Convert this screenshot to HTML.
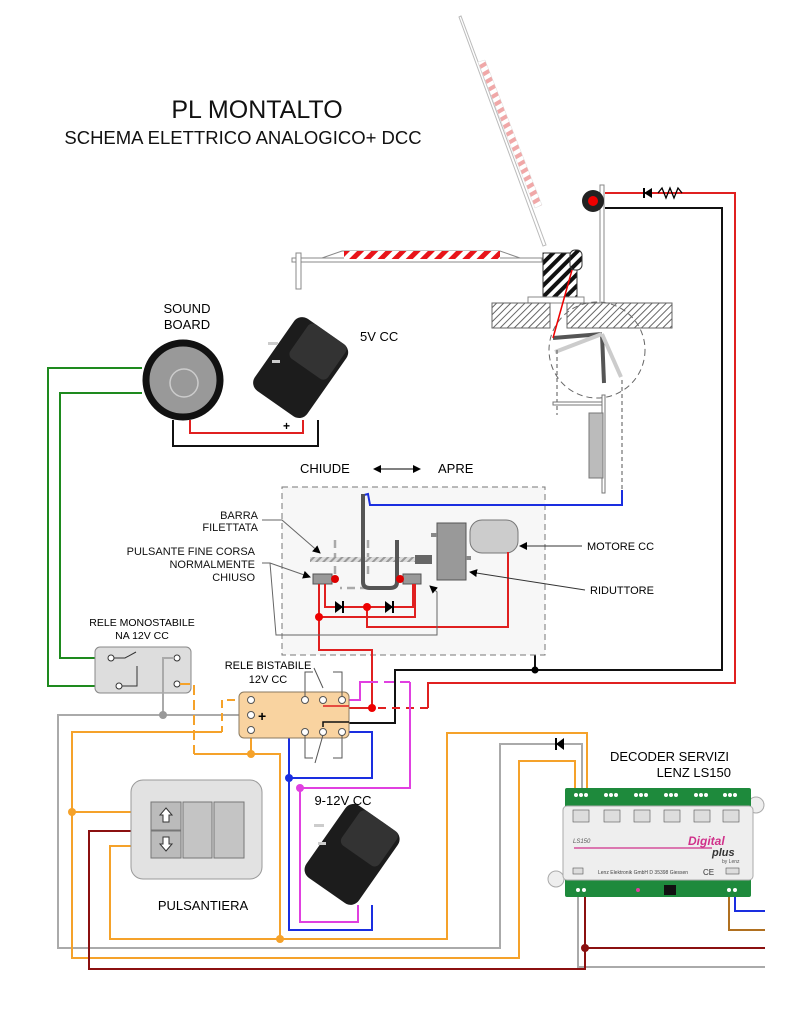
<!DOCTYPE html>
<html><head><meta charset="utf-8"><style>
html,body{margin:0;padding:0;background:#fff}
svg{display:block}
text{font-family:"Liberation Sans",sans-serif}
</style></head><body>
<svg width="800" height="1026" viewBox="0 0 800 1026" xmlns="http://www.w3.org/2000/svg">
<defs>
<pattern id="rw" width="10" height="10" patternUnits="userSpaceOnUse" patternTransform="rotate(45)"><rect width="10" height="10" fill="#fff"/><rect width="5" height="10" fill="#e8141a"/></pattern>
<pattern id="rwl" width="8" height="8" patternUnits="userSpaceOnUse" patternTransform="rotate(-30)"><rect width="8" height="8" fill="#fff"/><rect width="8" height="4" fill="#f0a8a8"/></pattern>
<pattern id="bw" width="8" height="8" patternUnits="userSpaceOnUse" patternTransform="rotate(45)"><rect width="8" height="8" fill="#fff"/><rect width="4" height="8" fill="#111"/></pattern>
<pattern id="hatch" width="5" height="5" patternUnits="userSpaceOnUse" patternTransform="rotate(45)"><rect width="5" height="5" fill="#fff"/><rect width="1" height="5" fill="#666"/></pattern>
<pattern id="thr" width="5" height="5" patternUnits="userSpaceOnUse" patternTransform="rotate(45)"><rect width="5" height="5" fill="#ddd"/><rect width="2" height="5" fill="#999"/></pattern>
<marker id="ah" markerWidth="8" markerHeight="8" refX="7" refY="4" orient="auto"><path d="M0,0 L8,4 L0,8 z" fill="#000"/></marker>
</defs>

<!-- titles -->
<text x="257" y="118" font-size="25" text-anchor="middle" fill="#111">PL MONTALTO</text>
<text x="243" y="144" font-size="18.5" text-anchor="middle" fill="#111">SCHEMA ELETTRICO ANALOGICO+ DCC</text>

<!-- raised barrier -->
<polygon points="459,17 461,16 546,245 543,246" fill="#fff" stroke="#bbb" stroke-width="1"/>
<polygon points="478,62 485,60 542,205 535,208" fill="url(#rwl)" stroke="#ddd" stroke-width="0.5"/>
<!-- horizontal barrier -->
<rect x="292" y="258" width="250" height="4" fill="#fff" stroke="#888"/>
<polygon points="322,258 342,251 500,251 520,258" fill="#fff" stroke="#888"/>
<rect x="344" y="251" width="156" height="8" fill="url(#rw)"/>
<rect x="296" y="253" width="5" height="36" fill="#fff" stroke="#888"/>
<rect x="543" y="253" width="34" height="47" fill="url(#bw)" stroke="#333"/>
<rect x="570" y="250" width="12" height="20" rx="5" fill="url(#bw)" stroke="#333"/>
<rect x="528" y="297" width="56" height="6" fill="#fff" stroke="#888"/>
<!-- ground -->
<rect x="492" y="303" width="58" height="25" fill="url(#hatch)" stroke="#666"/>
<rect x="567" y="303" width="105" height="25" fill="url(#hatch)" stroke="#666"/>
<!-- signal -->
<rect x="600" y="185" width="4" height="118" fill="#fff" stroke="#888"/>
<circle cx="593" cy="201" r="11" fill="#222"/><circle cx="593" cy="201" r="5" fill="#e00"/>
<!-- mechanism -->
<circle cx="597" cy="350" r="48" fill="none" stroke="#666" stroke-dasharray="6,4"/>
<line x1="553" y1="338" x2="602" y2="334" stroke="#555" stroke-width="4"/>
<line x1="602" y1="334" x2="604" y2="383" stroke="#555" stroke-width="4"/>
<line x1="602" y1="334" x2="555" y2="352" stroke="#ccc" stroke-width="4"/>
<line x1="602" y1="334" x2="621" y2="377" stroke="#ccc" stroke-width="4"/>
<line x1="572" y1="270" x2="553" y2="338" stroke="#e00" stroke-width="1.5"/>
<line x1="557" y1="350" x2="557" y2="415" stroke="#555" stroke-dasharray="4,3"/>
<line x1="622" y1="380" x2="622" y2="490" stroke="#555" stroke-dasharray="4,3"/>
<rect x="553" y="402" width="52" height="3" fill="#fff" stroke="#777"/>
<rect x="602" y="395" width="3" height="98" fill="#fff" stroke="#777"/>
<rect x="589" y="413" width="14" height="65" fill="#bbb" stroke="#777"/>
<!-- signal wires -->
<polyline points="605,193 735,193 735,683 428,683 428,708" fill="none" stroke="#e02020" stroke-width="2"/>
<polygon points="644,188 644,198 652,193" fill="#000" transform="rotate(180 648 193)"/><line x1="644" y1="188" x2="644" y2="198" stroke="#000" stroke-width="2"/>
<polyline points="658,193 662,188 666,198 670,188 674,198 678,188 682,193" fill="none" stroke="#000" stroke-width="1.3"/>
<polyline points="605,208 722,208 722,670 395,670 395,723 325,723" fill="none" stroke="#111" stroke-width="2"/>
<polyline points="535,670 535,513 508,513 508,520" fill="none" stroke="#111" stroke-width="2"/>
<circle cx="535" cy="670" r="3.5" fill="#000"/>

<!-- dashed box -->
<rect x="282" y="487" width="263" height="168" fill="#f7f7f7" stroke="#777" stroke-dasharray="6,4"/>
<text x="300" y="473" font-size="13">CHIUDE</text>
<text x="438" y="473" font-size="13">APRE</text>
<line x1="376" y1="469" x2="420" y2="469" stroke="#000" marker-end="url(#ah)"/>
<line x1="418" y1="469" x2="374" y2="469" stroke="#000" marker-end="url(#ah)"/>
<!-- blue wire -->
<polyline points="364,505 364,495 368,494 370,505 622,505 622,490" fill="none" stroke="#1a2ee0" stroke-width="2"/>
<!-- guides -->
<line x1="335" y1="540" x2="335" y2="580" stroke="#aaa" stroke-width="2.5" stroke-dasharray="8,5"/>
<line x1="368" y1="588" x2="340" y2="588" stroke="#aaa" stroke-width="2.5" stroke-dasharray="8,5"/>
<line x1="368" y1="540" x2="368" y2="578" stroke="#aaa" stroke-width="2.5" stroke-dasharray="8,5"/>
<rect x="310" y="557" width="110" height="5" fill="url(#thr)"/>
<rect x="415" y="555" width="17" height="9" fill="#666"/>
<path d="M363,494 L363,582 Q363,588 370,588 L390,588 Q397,588 397,582 L397,540" fill="none" stroke="#555" stroke-width="4"/>
<rect x="437" y="523" width="29" height="57" fill="#999" stroke="#555"/>
<rect x="431" y="533" width="6" height="4" fill="#888"/><rect x="466" y="556" width="5" height="4" fill="#888"/>
<rect x="470" y="520" width="48" height="33" rx="12" fill="#ccc" stroke="#777"/>
<rect x="313" y="574" width="19" height="10" fill="#999" stroke="#555"/><circle cx="335" cy="579" r="4" fill="#d00"/>
<rect x="403" y="574" width="18" height="10" fill="#999" stroke="#555"/><circle cx="400" cy="579" r="4" fill="#d00"/>
<!-- red wires in box -->
<g fill="none" stroke="#e02020" stroke-width="2">
<polyline points="319,584 319,650 372,650 372,708 325,708"/>
<polyline points="325,584 325,607 413,607 413,584"/>
<polyline points="319,617 415,617 415,584"/>
<polyline points="367,607 367,627 508,627 508,552"/>
</g>
<polygon points="335,601 335,613 343,607" fill="#000"/><line x1="343" y1="601" x2="343" y2="613" stroke="#000" stroke-width="2"/>
<polygon points="385,601 385,613 393,607" fill="#000"/><line x1="393" y1="601" x2="393" y2="613" stroke="#000" stroke-width="2"/>
<circle cx="319" cy="617" r="4" fill="#e00"/><circle cx="367" cy="607" r="4" fill="#e00"/><circle cx="372" cy="708" r="4" fill="#e00"/>
<line x1="428" y1="708" x2="376" y2="708" stroke="#e02020" stroke-width="2" stroke-dasharray="8,6"/>
<!-- labels box -->
<g font-size="11" text-anchor="end" fill="#111">
<text x="258" y="519">BARRA</text><text x="258" y="531">FILETTATA</text>
<text x="255" y="555">PULSANTE FINE CORSA</text><text x="255" y="568">NORMALMENTE</text><text x="255" y="581">CHIUSO</text>
</g>
<polyline points="262,520 282,520 320,553" fill="none" stroke="#666" marker-end="url(#ah)"/>
<polyline points="262,563 270,563 310,577" fill="none" stroke="#666" marker-end="url(#ah)"/>
<polyline points="270,563 276,635 437,635 437,592 430,586" fill="none" stroke="#666" marker-end="url(#ah)"/>
<text x="587" y="550" font-size="11">MOTORE CC</text>
<line x1="582" y1="546" x2="520" y2="546" stroke="#333" marker-end="url(#ah)"/>
<text x="590" y="594" font-size="11">RIDUTTORE</text>
<line x1="585" y1="590" x2="470" y2="572" stroke="#333" marker-end="url(#ah)"/>

<!-- sound board -->
<text x="187" y="313" font-size="13" text-anchor="middle">SOUND</text>
<text x="187" y="329" font-size="13" text-anchor="middle">BOARD</text>
<polyline points="142,368 48,368 48,686 118,686" fill="none" stroke="#1e8a1e" stroke-width="2"/>
<polyline points="142,393 60,393 60,658 110,658" fill="none" stroke="#1e8a1e" stroke-width="2"/>
<polyline points="173,420 173,446 318,446 318,420" fill="none" stroke="#111" stroke-width="2"/>
<polyline points="190,420 190,433 303,433 303,420" fill="none" stroke="#e02020" stroke-width="2"/>
<text x="283" y="430" font-size="12" font-weight="bold">+</text>
<circle cx="183" cy="380" r="37" fill="#999" stroke="#111" stroke-width="7"/>
<circle cx="184" cy="383" r="14" fill="none" stroke="#ccc" stroke-width="1.5"/>
<!-- 5V adapter -->
<g transform="translate(300,372) rotate(35)">
<rect x="-34" y="-48" width="64" height="88" rx="10" fill="#1c1c1c"/>
<rect x="-20" y="-48" width="46" height="42" rx="6" fill="#333"/>
</g>
<rect x="268" y="342" width="10" height="3" fill="#ccc"/><rect x="272" y="360" width="8" height="3" fill="#ccc"/>
<text x="360" y="341" font-size="13">5V CC</text>

<!-- monostable relay -->
<text x="142" y="626" font-size="10.5" text-anchor="middle">RELE MONOSTABILE</text>
<text x="142" y="639" font-size="10.5" text-anchor="middle">NA 12V CC</text>
<rect x="95" y="647" width="96" height="46" rx="5" fill="#ddd" stroke="#888"/>
<polyline points="111,658 125,658 136,652" fill="none" stroke="#333"/>
<polyline points="122,686 137,686 137,666" fill="none" stroke="#333"/>
<circle cx="111" cy="658" r="3" fill="#fff" stroke="#333"/><circle cx="119" cy="686" r="3" fill="#fff" stroke="#333"/>
<circle cx="177" cy="658" r="3" fill="#fff" stroke="#333"/><circle cx="177" cy="684" r="3" fill="#fff" stroke="#333"/>

<!-- wires bottom-left -->
<g fill="none" stroke-width="2">
<polyline points="174,658 163,658 163,715" stroke="#aaa"/>
<polyline points="248,715 58,715 58,948 500,948 500,744 582,744 582,790" stroke="#aaa"/>
<polyline points="578,895 578,967 765,967" stroke="#aaa"/>
<polyline points="180,684 194,684 194,754" stroke="#f5a22a" stroke-dasharray="10,5"/>
<polyline points="194,754 280,754 280,939" stroke="#f5a22a"/>
<line x1="251" y1="738" x2="251" y2="754" stroke="#f5a22a"/>
<polyline points="248,700 222,700 222,732" stroke="#f5a22a" stroke-dasharray="8,5"/>
<polyline points="222,732 72,732 72,958 519,958 519,761 575,761 575,790" stroke="#f5a22a"/>
<polyline points="72,812 151,812" stroke="#f5a22a"/>
<polyline points="151,846 110,846 110,939 447,939 447,733 587,733 587,790" stroke="#f5a22a"/>
<polyline points="151,831 89,831 89,969 585,969 585,895" stroke="#8b1010"/>
<polyline points="585,948 765,948" stroke="#8b1010"/>
<polyline points="729,895 729,930 765,930" stroke="#b07020"/>
<polyline points="735,895 735,911 765,911" stroke="#1a2ee0"/>
<polyline points="305,700 289,700 289,930 372,930 372,905" stroke="#1a2ee0"/>
<polyline points="289,778 372,778 372,732 342,732" stroke="#1a2ee0"/>
<polyline points="342,700 360,700 360,682 368,682" stroke="#e040e0"/>
<polyline points="368,682 410,682" stroke="#e040e0" stroke-dasharray="10,6"/>
<polyline points="410,682 410,788 300,788 300,922 358,922 358,905" stroke="#e040e0"/>
</g>
<circle cx="163" cy="715" r="4" fill="#999"/>
<circle cx="251" cy="754" r="4" fill="#f5a22a"/><circle cx="280" cy="939" r="4" fill="#f5a22a"/><circle cx="72" cy="812" r="4" fill="#f5a22a"/>
<circle cx="585" cy="948" r="4" fill="#8b1010"/>
<circle cx="289" cy="778" r="4" fill="#1a2ee0"/><circle cx="300" cy="788" r="4" fill="#e040e0"/>
<polygon points="564,738 564,750 556,744" fill="#000"/><line x1="556" y1="738" x2="556" y2="750" stroke="#000" stroke-width="2"/>

<!-- bistable relay -->
<text x="268" y="669" font-size="11" text-anchor="middle">RELE BISTABILE</text>
<text x="268" y="683" font-size="11" text-anchor="middle">12V CC</text>
<rect x="239" y="692" width="110" height="46" rx="5" fill="#f9d3a0" stroke="#8a7a60"/>
<g fill="none" stroke="#555">
<polyline points="305,700 305,672 313,672"/><line x1="314" y1="668" x2="323" y2="688"/><polyline points="333,672 342,672 342,700"/>
<polyline points="305,732 305,758 313,758"/><line x1="323" y1="735" x2="315" y2="763"/><polyline points="333,758 342,758 342,732"/>
</g>
<polyline points="323,706 349,706" fill="none" stroke="#e02020" stroke-width="1.5"/>
<polyline points="323,727 323,722 349,722" fill="none" stroke="#111" stroke-width="1.5"/>
<g fill="#fff" stroke="#555">
<circle cx="251" cy="700" r="3.5"/><circle cx="251" cy="715" r="3.5"/><circle cx="251" cy="730" r="3.5"/>
<circle cx="305" cy="700" r="3.5"/><circle cx="323" cy="700" r="3.5"/><circle cx="342" cy="700" r="3.5"/>
<circle cx="305" cy="732" r="3.5"/><circle cx="323" cy="732" r="3.5"/><circle cx="342" cy="732" r="3.5"/>
</g>
<text x="258" y="721" font-size="14" font-weight="bold">+</text>

<!-- pulsantiera -->
<rect x="131" y="780" width="131" height="99" rx="12" fill="#e2e2e2" stroke="#999"/>
<rect x="151" y="802" width="30" height="28" fill="#bbb" stroke="#777"/>
<rect x="151" y="831" width="30" height="27" fill="#bbb" stroke="#777"/>
<rect x="183" y="802" width="29" height="56" fill="#c4c4c4" stroke="#777"/>
<rect x="214" y="802" width="30" height="56" fill="#c4c4c4" stroke="#777"/>
<path d="M166,808 L172,815 L169,815 L169,822 L163,822 L163,815 L160,815 Z" fill="#fff" stroke="#333"/>
<path d="M166,851 L172,844 L169,844 L169,837 L163,837 L163,844 L160,844 Z" fill="#fff" stroke="#333"/>
<text x="203" y="910" font-size="13" text-anchor="middle">PULSANTIERA</text>

<!-- 9-12V adapter -->
<text x="343" y="805" font-size="13" text-anchor="middle">9-12V CC</text>
<g transform="translate(352,858) rotate(35)">
<rect x="-34" y="-47" width="64" height="88" rx="10" fill="#1c1c1c"/>
<rect x="-20" y="-47" width="46" height="42" rx="6" fill="#333"/>
</g>
<rect x="314" y="824" width="10" height="3" fill="#ccc"/><rect x="318" y="842" width="8" height="3" fill="#ccc"/>

<!-- decoder -->
<text x="610" y="761" font-size="13">DECODER SERVIZI</text>
<text x="731" y="777" font-size="13" text-anchor="end">LENZ LS150</text>
<circle cx="756" cy="805" r="8" fill="#eee" stroke="#aaa"/>
<circle cx="556" cy="879" r="8" fill="#eee" stroke="#aaa"/>
<rect x="565" y="788" width="186" height="20" rx="2" fill="#1e8a3c"/>
<rect x="565" y="878" width="186" height="19" rx="2" fill="#1e8a3c"/>
<rect x="563" y="806" width="190" height="74" rx="4" fill="#eee" stroke="#aaa"/>
<g fill="#ddd" stroke="#555" stroke-width="0.6">
<rect x="573" y="810" width="16" height="12"/><rect x="604" y="810" width="16" height="12"/><rect x="634" y="810" width="16" height="12"/>
<rect x="664" y="810" width="16" height="12"/><rect x="694" y="810" width="16" height="12"/><rect x="723" y="810" width="16" height="12"/>
<rect x="573" y="868" width="10" height="6"/><rect x="726" y="868" width="13" height="6"/>
</g>
<g fill="#fff">
<circle cx="576" cy="795" r="2"/><circle cx="581" cy="795" r="2"/><circle cx="586" cy="795" r="2"/>
<circle cx="606" cy="795" r="2"/><circle cx="611" cy="795" r="2"/><circle cx="616" cy="795" r="2"/>
<circle cx="636" cy="795" r="2"/><circle cx="641" cy="795" r="2"/><circle cx="646" cy="795" r="2"/>
<circle cx="666" cy="795" r="2"/><circle cx="671" cy="795" r="2"/><circle cx="676" cy="795" r="2"/>
<circle cx="696" cy="795" r="2"/><circle cx="701" cy="795" r="2"/><circle cx="706" cy="795" r="2"/>
<circle cx="725" cy="795" r="2"/><circle cx="730" cy="795" r="2"/><circle cx="735" cy="795" r="2"/>
<circle cx="578" cy="890" r="2"/><circle cx="584" cy="890" r="2"/><circle cx="729" cy="890" r="2"/><circle cx="735" cy="890" r="2"/>
</g>
<rect x="664" y="885" width="12" height="10" fill="#111"/>
<circle cx="638" cy="890" r="2" fill="#e040a0"/>
<text x="573" y="843" font-size="6" font-style="italic" fill="#555">LS150</text>
<line x1="574" y1="848" x2="712" y2="848" stroke="#d0308a" stroke-width="1.2"/>
<text x="688" y="845" font-size="12" font-style="italic" font-weight="bold" fill="#d0308a">Digital</text>
<text x="712" y="856" font-size="11" font-style="italic" font-weight="bold" fill="#333">plus</text>
<text x="722" y="863" font-size="5" fill="#555">by Lenz</text>
<text x="598" y="874" font-size="5" fill="#444">Lenz Elektronik GmbH  D 35398 Giessen</text>
<text x="703" y="875" font-size="8" fill="#333">CE</text>
</svg>
</body></html>
